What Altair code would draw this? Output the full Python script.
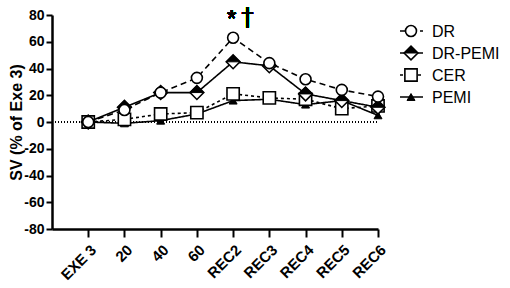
import json
import altair as alt
import pandas as pd

x_labels = ["EXE 3", "20", "40", "60", "REC2", "REC3", "REC4", "REC5", "REC6"]
series = ["DR", "DR-PEMI", "CER", "PEMI"]
dr = [0, 9, 22, 33, 63, 44, 32, 24, 19]
dr_pemi = [0, 11, 22, 22, 45, 42, 21, 16, 11]
cer = [0, 2, 6, 7, 21, 18, 17, 10, 12]
pemi = [0, -1, 1, 6, 16, 17, 13, 16, 5]
values = {"DR": dr, "DR-PEMI": dr_pemi, "CER": cer, "PEMI": pemi}

rows = []
for s in series:
    for i, v in enumerate(values[s]):
        rows.append({"idx": i, "series": s, "value": v})
df = pd.DataFrame(rows)

W, H = 326, 214
FONT = "Liberation Sans"
dashes = {"DR": [6, 4], "DR-PEMI": [1, 0], "CER": [3, 3], "PEMI": [1, 0]}

xs = alt.Scale(domain=[-1, 8], nice=False, zero=False)
ys = alt.Scale(domain=[-80, 80], nice=False, zero=False)
label_expr = json.dumps(x_labels) + "[datum.value]"

x_axis = alt.Axis(
    values=list(range(9)), labelExpr=label_expr, title=None, labelOverlap=False,
    labelFontSize=15, tickSize=8,
    labelAngle=-45, labelAlign="right", labelBaseline="top", labelPadding=5)
y_axis = alt.Axis(
    values=list(range(-80, 81, 20)), title="SV (% of Exe 3)", labelOverlap=False,
    labelExpr="datum.value + ''", labelFontSize=14, tickCount=9, tickSize=6,
    titleFontSize=16, titleFontWeight="bold", titleX=-36, titleY=H / 2,
    titleAngle=-90, titleAlign="center", titleBaseline="middle", labelPadding=2)

base = alt.Chart(df)
X = alt.X("idx:Q", scale=xs, axis=x_axis)
Y = alt.Y("value:Q", scale=ys, axis=y_axis)

zero = alt.Chart(df).mark_rule(color="black", strokeDash=[1, 2], strokeWidth=1).encode(
    x=alt.XDatum(-1, scale=xs, axis=x_axis), x2=alt.X2Datum(8),
    y=alt.YDatum(0, scale=ys, axis=y_axis))

layers = [zero]
for s in ["PEMI", "CER", "DR-PEMI", "DR"]:
    layers.append(base.transform_filter(alt.datum.series == s).mark_line(
        color="black", strokeWidth=1.6, strokeDash=dashes[s]).encode(x=X, y=Y))


def markers(s, chart):
    c = chart.transform_filter(alt.datum.series == s)
    if s == "DR":
        return [c.mark_point(shape="circle", filled=True, fill="white", stroke="black",
                             strokeWidth=1.6, size=120, opacity=1).encode(x=X, y=Y)]
    if s == "DR-PEMI":
        return [c.mark_point(shape="diamond", filled=True, fill="white", stroke="black",
                             strokeWidth=1.6, size=190, opacity=1).encode(x=X, y=Y),
                c.mark_point(shape="M-1,0L0,-1L1,0Z", filled=True, fill="black", stroke="black",
                             strokeWidth=1, size=190, opacity=1).encode(x=X, y=Y)]
    if s == "CER":
        return [c.mark_point(shape="square", filled=True, fill="white", stroke="black",
                             strokeWidth=1.6, size=150, opacity=1).encode(x=X, y=Y)]
    return [c.mark_point(shape="triangle-up", filled=True, fill="black", stroke="black",
                         strokeWidth=1, size=64, opacity=1).encode(x=X, y=Y)]


for s in ["PEMI", "CER", "DR-PEMI", "DR"]:
    layers += markers(s, base)

# annotation
layers.append(alt.Chart(df).mark_text(text="*", fontSize=24, font=FONT, color="black",
                                       baseline="middle", align="center").encode(
    x=alt.XDatum(3.96, scale=xs, axis=x_axis), y=alt.YDatum(76, scale=ys, axis=y_axis)))
layers.append(alt.Chart(df).mark_text(text="†", fontSize=24, font="DejaVu Sans", color="black",
                                       baseline="middle", align="center").encode(
    x=alt.XDatum(4.4, scale=xs, axis=x_axis), y=alt.YDatum(78, scale=ys, axis=y_axis)))

# manual legend
leg_df = pd.DataFrame({"series": series})
for i, s in enumerate(series):
    yy = 16 + 22 * i
    lb = alt.Chart(leg_df).transform_filter(alt.datum.series == s)
    layers.append(lb.mark_rule(color="black", strokeWidth=1.6, strokeDash=dashes[s]).encode(
        x=alt.value(348), x2=alt.value(371), y=alt.value(yy)))
    for m in markers(s, lb):
        layers.append(m.encode(x=alt.value(359), y=alt.value(yy)))
    layers.append(lb.mark_text(text=s, fontSize=16, font=FONT, align="left",
                               baseline="middle", color="black").encode(
        x=alt.value(380), y=alt.value(yy + 1)))

chart = alt.layer(*layers).properties(
    width=W, height=H,
    autosize=alt.AutoSizeParams(type="none"),
    padding={"left": 52, "top": 15, "right": 132, "bottom": 59},
).configure_view(stroke=None, clip=False).configure_axis(
    grid=False, domainColor="black", domainWidth=2.5, tickColor="black", tickWidth=2,
    labelFont=FONT, labelFontSize=13, labelFontWeight="bold",
    labelColor="black", titleFont=FONT, titleColor="black",
)

chart.save("out.html", embed_options={"renderer": "svg", "actions": False})
